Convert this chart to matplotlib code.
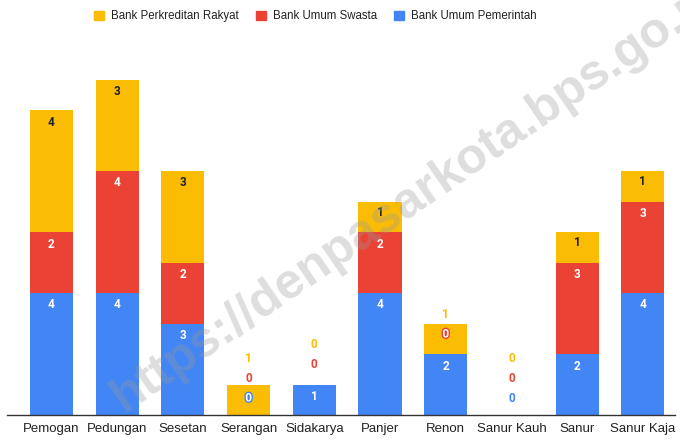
import matplotlib
matplotlib.use("Agg")
import matplotlib.pyplot as plt
import matplotlib.patheffects as pe
from matplotlib.patches import Patch

# ---------------------------------------------------------------------------------------------------------------------
# DATA
# ---------------------------------------------------------------------------------------------------------------------
KELURAHAN = ['Pemogan', 'Pedungan', 'Sesetan', 'Serangan', 'Sidakarya', 'Panjer', 'Renon',
             'Sanur Kauh', 'Sanur', 'Sanur Kaja']
BANK_UMUM_PEMERINTAH = [4, 4, 3, 0, 1, 4, 2, 0, 2, 4]
BANK_UMUM_SWASTA = [2, 4, 2, 0, 0, 2, 0, 0, 3, 3]
BANK_PERKREDITAN_RAKYAT = [4, 3, 3, 1, 0, 1, 1, 0, 1, 1]

SERIES = [
    ('Bank Umum Pemerintah', BANK_UMUM_PEMERINTAH, '#4285F4', 'white'),
    ('Bank Umum Swasta', BANK_UMUM_SWASTA, '#EA4335', 'white'),
    ('Bank Perkreditan Rakyat', BANK_PERKREDITAN_RAKYAT, '#FBBC04', '#222222'),
]

W, H = 680, 441
fig = plt.figure(figsize=(W / 100, H / 100), dpi=100)
# baseline at y=415px, 1 unit = 30.5px
ax = fig.add_axes([7 / W, 26 / H, 668 / W, 366 / H])
ax.set_ylim(0, 12)
ax.set_xlim(-0.677, 9.49)

x = list(range(len(KELURAHAN)))
bottom = [0] * len(KELURAHAN)
for name, vals, color, _ in SERIES:
    ax.bar(x, vals, width=0.655, bottom=bottom, color=color, zorder=2)
    bottom = [b + v for b, v in zip(bottom, vals)]

ax.set_xticks(x)
ax.set_xticklabels(KELURAHAN, fontsize=9.5, color='#222222', family=['Liberation Sans', 'DejaVu Sans'])
ax.tick_params(axis='x', length=0, pad=6)
ax.set_yticks([])
for s in ['top', 'left', 'right']:
    ax.spines[s].set_visible(False)
ax.spines['bottom'].set_color('#333333')
ax.spines['bottom'].set_linewidth(1.0)

# data labels, placed in pixel space like the google chart does
ppu = 30.5
for i in x:
    total_px = sum(s[1][i] for s in SERIES) * ppu
    prev = None
    prev_nonzero = False
    seg_bottom = 0
    segs = []
    for name, vals, color, txtcol in SERIES:
        segs.append((seg_bottom, seg_bottom + vals[i] * ppu))
        seg_bottom += vals[i] * ppu
    for k, (name, vals, color, txtcol) in enumerate(SERIES):
        v = vals[i]
        y = segs[k][1] - 12
        if prev is None:
            y = max(y, 17 if v == 0 else 14)
        else:
            y = max(y, prev + (32 if prev_nonzero else 20))
        effects = None
        if y < total_px - 5:
            own = segs[k][0] <= y <= segs[k][1] and v > 0
            if own:
                tc = txtcol
            else:
                tc = 'white'
                effects = [pe.withStroke(linewidth=2, foreground=color)]
        else:
            tc = color
        t = ax.text(i, y / ppu, str(v), ha='center', va='center', fontsize=8.5, fontweight='bold',
                    color=tc, family=['Roboto', 'DejaVu Sans'], zorder=4)
        if effects:
            t.set_path_effects(effects)
        prev = y
        prev_nonzero = v > 0

# legend
handles = [Patch(color=s[2], label=s[0]) for s in SERIES[::-1]]
fig.legend(handles=handles, loc='upper left', bbox_to_anchor=(84 / W, 1.0), ncol=3, frameon=False,
           handlelength=0.85, handleheight=0.85, handletextpad=0.6, columnspacing=1.5,
           prop={'family': ['Liberation Sans', 'DejaVu Sans'], 'size': 8.3}, labelcolor='#222222')

# watermark
fig.text(416 / W, 1 - 196 / H, 'https://denpasarkota.bps.go.id', rotation=34.5, rotation_mode='anchor',
         ha='center', va='center', fontsize=36, fontweight='bold', color='#9a9a9a', alpha=0.33,
         family=['Liberation Sans', 'DejaVu Sans'], zorder=10)

fig.savefig('out.png', dpi=100)
